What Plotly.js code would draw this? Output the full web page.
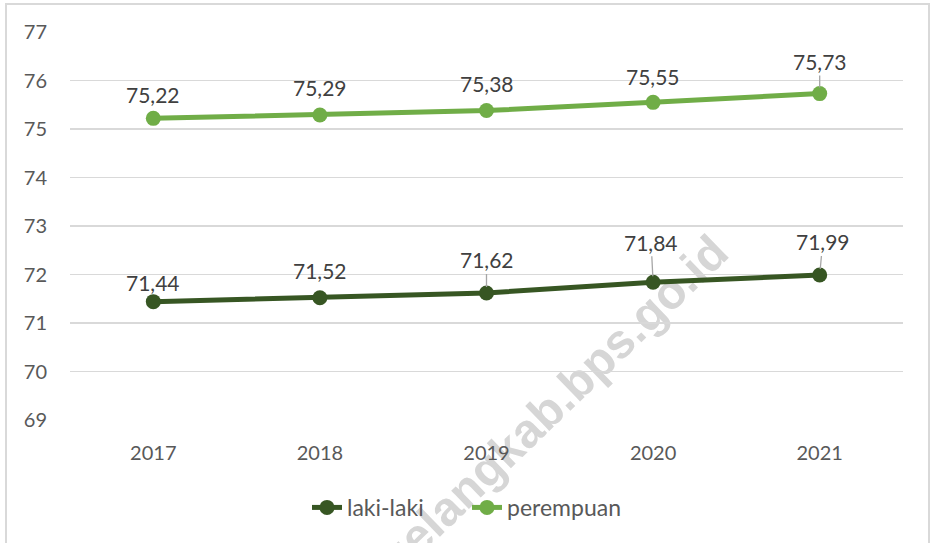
<!DOCTYPE html>
<html>
<head>
<meta charset="utf-8">
<script src="https://cdn.plot.ly/plotly-3.0.1.min.js"></script>
<style>
html,body{margin:0;padding:0;background:#fff;}
#wrap{width:934px;height:543px;position:relative;overflow:hidden;}
#wm{position:absolute;left:-80px;top:220px;width:800px;height:48px;line-height:48px;text-align:right;
    transform-origin:100% 50%;transform:rotate(-44deg);
    font-family:Arial,'Liberation Sans',sans-serif;font-weight:bold;font-size:48px;color:#d6d6d6;white-space:nowrap;z-index:0;}
#chart{position:absolute;left:0;top:0;width:934px;height:543px;z-index:1;}
#frame{position:absolute;left:5px;top:3px;width:921px;height:600px;border:2px solid #d9d9d9;pointer-events:none;z-index:2;}
</style>
</head>
<body>
<div id="wrap">
  <div id="wm">magelangkab.bps.go.id</div>
  <div id="chart"></div>
  <div id="frame"></div>
</div>
<script>
// ---- data ----
const years = ["2017", "2018", "2019", "2020", "2021"];
const lakiLaki = [71.44, 71.52, 71.62, 71.84, 71.99];
const perempuan = [75.22, 75.29, 75.38, 75.55, 75.73];
const seriesNames = ["laki-laki", "perempuan"];
const yTicks = [69, 70, 71, 72, 73, 74, 75, 76, 77];

// ---- style ----
const colors = ["#375623", "#70AD47"];
const FONT = "Lato, 'Open Sans', sans-serif";
// label offsets (px) and leader-line flags per point
const labelOffsets = [
  {ay: [-19, -27, -33, -40, -33], ax: [0, 0, 0, -2, 3], lead: [false, false, true, true, true]},
  {ay: [-24, -27, -27, -26, -32], ax: [0, 0, 0, 0, 0], lead: [false, false, false, false, true]}
];

const fmt = v => v.toFixed(2).replace('.', ',');
const allSeries = [lakiLaki, perempuan];

const traces = allSeries.map((vals, i) => ({
  type: 'scatter', mode: 'lines+markers',
  x: years, y: vals, name: seriesNames[i],
  line: {color: colors[i], width: 5},
  marker: {color: colors[i], size: 15},
  hoverinfo: 'skip'
}));

const annotations = [];
allSeries.forEach((vals, s) => {
  vals.forEach((v, k) => {
    annotations.push({
      x: k, y: v, xref: 'x', yref: 'y',
      text: fmt(v), showarrow: true,
      ax: labelOffsets[s].ax[k], ay: labelOffsets[s].ay[k],
      arrowhead: 0, arrowwidth: 1.3, standoff: 6,
      arrowcolor: labelOffsets[s].lead[k] ? '#a6a6a6' : 'rgba(0,0,0,0)',
      font: {family: FONT, size: 21, color: '#404040'}
    });
  });
});

const layout = {
  width: 934, height: 543,
  margin: {l: 70, r: 31, t: 32, b: 123},
  paper_bgcolor: 'rgba(0,0,0,0)', plot_bgcolor: 'rgba(0,0,0,0)',
  font: {family: FONT, color: '#595959', size: 20},
  showlegend: true,
  legend: {orientation: 'h', x: 0.4766, xanchor: 'center', y: -0.17, yanchor: 'top',
           entrywidth: 115, entrywidthmode: 'pixels',
           bgcolor: 'rgba(0,0,0,0)', font: {family: FONT, size: 23, color: '#595959'}},
  xaxis: {type: 'category', range: [-0.5, 4.5], showgrid: false, zeroline: false,
          showline: false, ticks: '', ticklabelstandoff: 19, fixedrange: true},
  yaxis: {range: [69, 77], tickvals: yTicks, showgrid: true, gridcolor: '#d9d9d9', gridwidth: 1.5,
          zeroline: false, showline: false, ticks: '', ticklabelstandoff: 22, fixedrange: true},
  annotations: annotations
};

Plotly.newPlot('chart', traces, layout, {displayModeBar: false, staticPlot: true});
</script>
</body>
</html>
